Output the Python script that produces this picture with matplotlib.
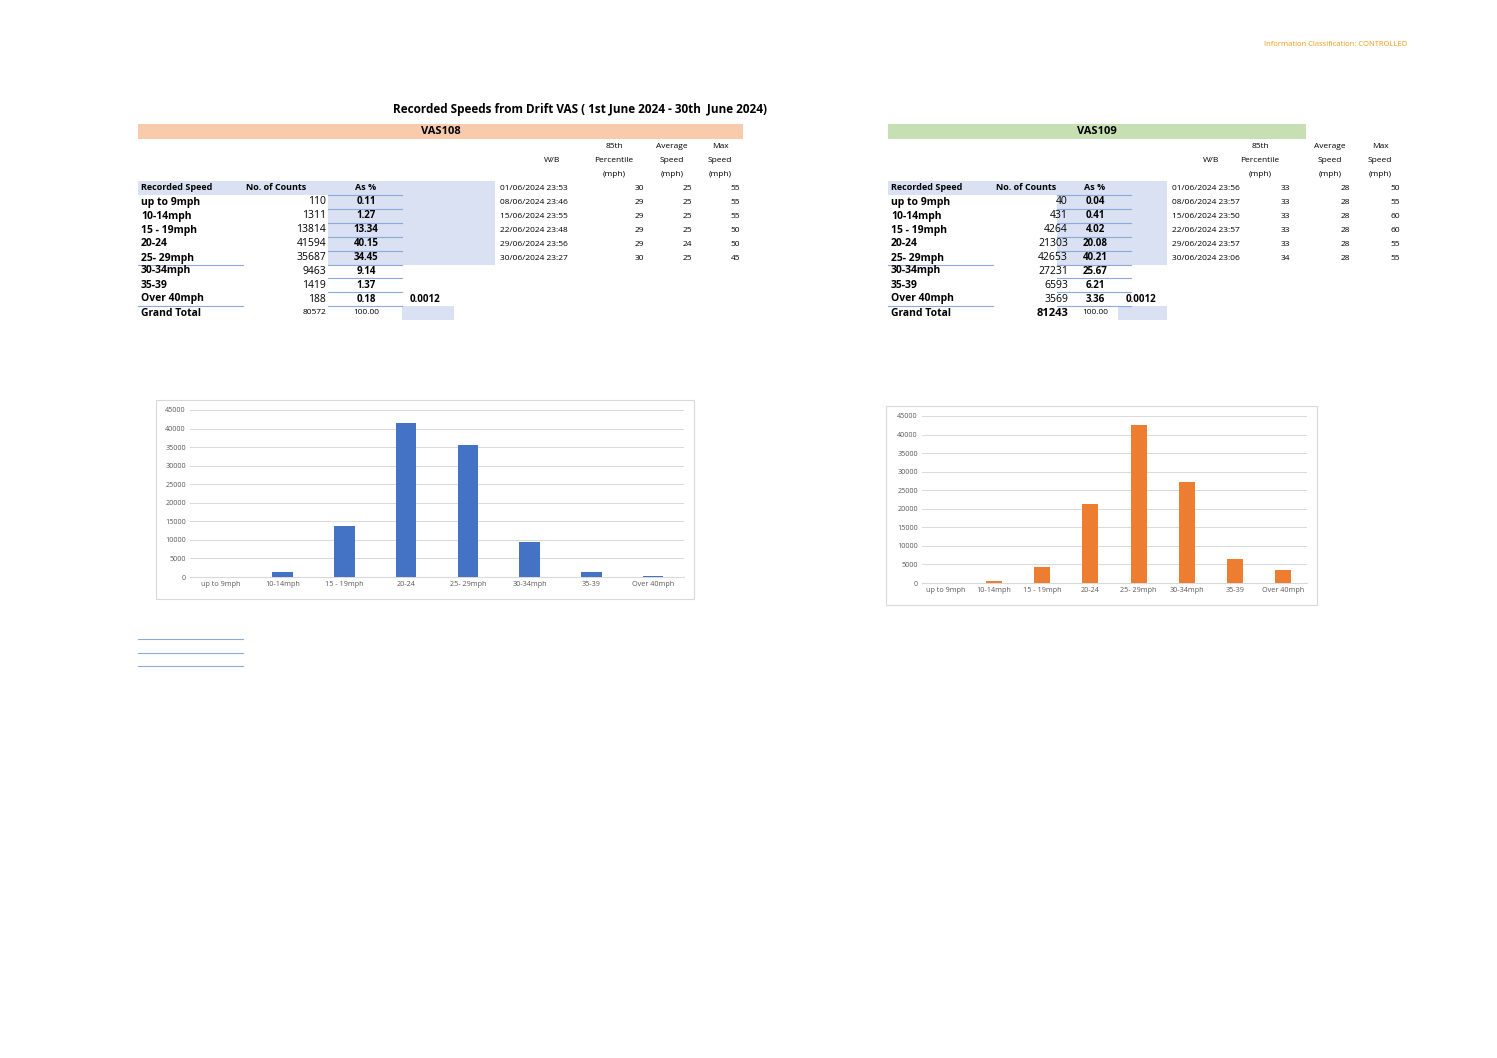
import matplotlib
matplotlib.use("Agg")
import matplotlib.pyplot as plt
from matplotlib.patches import Rectangle

categories = ["up to 9mph", "10-14mph", "15 - 19mph", "20-24", "25- 29mph", "30-34mph", "35-39", "Over 40mph"]
vas108_counts = [110, 1311, 13814, 41594, 35687, 9463, 1419, 188]
vas108_pct = ["0.11", "1.27", "13.34", "40.15", "34.45", "9.14", "1.37", "0.18"]
vas108_total = "80572"
vas109_counts = [40, 431, 4264, 21303, 42653, 27231, 6593, 3569]
vas109_pct = ["0.04", "0.41", "4.02", "20.08", "40.21", "25.67", "6.21", "3.36"]
vas109_total = "81243"
vas108_dates = ["01/06/2024 23:53", "08/06/2024 23:46", "15/06/2024 23:55", "22/06/2024 23:48", "29/06/2024 23:56", "30/06/2024 23:27"]
vas108_p85 = [30, 29, 29, 29, 29, 30]
vas108_avg = [25, 25, 25, 25, 24, 25]
vas108_max = [55, 55, 55, 50, 50, 45]
vas109_dates = ["01/06/2024 23:56", "08/06/2024 23:57", "15/06/2024 23:50", "22/06/2024 23:57", "29/06/2024 23:57", "30/06/2024 23:06"]
vas109_p85 = [33, 33, 33, 33, 33, 34]
vas109_avg = [28, 28, 28, 28, 28, 28]
vas109_max = [50, 55, 60, 60, 55, 55]
yticks = list(range(0, 45001, 5000))

W, H = 1497, 1058
fig = plt.figure(figsize=(W/100, H/100), dpi=100)
bg = fig.add_axes([0, 0, 1, 1])
bg.set_xlim(0, W); bg.set_ylim(H, 0); bg.axis("off")
FONT = "Open Sans"
BLUE = "#d9e1f2"

def T(x, y, s, ha="left", size=7, bold=False, color="black"):
    bg.text(x, y, s, ha=ha, va="center", fontsize=size, fontweight="bold" if bold else "normal",
            color=color, family=FONT)

def R(x0, y0, x1, y1, c):
    bg.add_patch(Rectangle((x0, y0), x1-x0, y1-y0, color=c, lw=0))

def L(x0, x1, y, c="#8ea9db"):
    bg.plot([x0, x1], [y, y], color=c, lw=0.8)

T(1407, 44, "Information Classification: CONTROLLED", ha="right", size=5.5, color="#f39c12")
T(580, 110, "Recorded Speeds from Drift VAS ( 1st June 2024 - 30th  June 2024)", ha="center", size=8.5, bold=True)

rows_y = [202, 216, 230, 244, 258, 271, 285, 299]

def table(o, band_end, title, band_col, counts, pct, total, dates, p85, avg, mx, total_bold, cx, pcx, ex0, ex1, dx, c85, cav, cmx, dend):
    R(o-3, 124, band_end, 139, band_col)
    T((o-3+band_end)/2, 131.5, title, ha="center", size=8, bold=True)
    # header texts
    T(dx+9+ (c85 - dx - 60)*0, 161, "", size=6)
    T((dx+c85)/2 - 20, 161, "W/B", ha="center", size=6)
    for xx, lines in [(c85-30, ["85th", "Percentile", "(mph)"]), (cav-20, ["Average", "Speed", "(mph)"]), (cmx-20, ["Max", "Speed", "(mph)"])]:
        for k, s in enumerate(lines):
            T(xx, 147+k*13.5, s, ha="center", size=6)
    # shading
    R(o-3, 181, dend, 195, BLUE)
    R(pcx-38, 195, dend, 265, BLUE)
    R(ex0, 306, ex1, 320, BLUE)
    T(o, 188, "Recorded Speed", size=6.5, bold=True)
    T(o+105, 188, "No. of Counts", size=6.5, bold=True)
    T(pcx, 188, "As %", ha="center", size=6.5, bold=True)
    for i, y in enumerate(rows_y):
        T(o, y, categories[i], size=7.5, bold=True)
        T(cx, y, str(counts[i]), ha="right", size=7.5)
        T(pcx, y, pct[i], ha="center", size=7, bold=True)
        L(pcx-38, pcx+36, y+7)
    for y in [265, 306]:
        L(o-3, o+102, y)
    L(pcx-38, pcx+36, 195)
    T(ex0+8, 299, "0.0012", size=7, bold=True)
    T(o, 313, "Grand Total", size=7.5, bold=True)
    T(cx, 313, total, ha="right", size=8 if total_bold else 6, bold=total_bold)
    T(pcx, 313, "100.00", ha="center", size=6)
    for i in range(6):
        y = 188 + i*14
        T(dx, y, dates[i], size=6)
        T(c85, y, str(p85[i]), ha="right", size=6)
        T(cav, y, str(avg[i]), ha="right", size=6)
        T(cmx, y, str(mx[i]), ha="right", size=6)

table(141, 743, "VAS108", "#f8cbad", vas108_counts, vas108_pct, vas108_total, vas108_dates, vas108_p85, vas108_avg, vas108_max,
      False, 326, 366, 402, 454, 500, 644, 692, 740, 495)
table(891, 1306, "VAS109", "#c6e0b4", vas109_counts, vas109_pct, vas109_total, vas109_dates, vas109_p85, vas109_avg, vas109_max,
      True, 1068, 1095, 1118, 1167, 1172, 1290, 1350, 1400, 1167)

for y in [639, 653, 666]:
    L(138, 243, y)

def chart(frame, plot, counts, color, tsize):
    fx0, fy0, fx1, fy1 = frame
    bg.add_patch(Rectangle((fx0, fy0), fx1-fx0, fy1-fy0, fill=False, ec="#d9d9d9", lw=0.8))
    px0, py0, px1, py1 = plot
    ax = fig.add_axes([px0/W, 1-py1/H, (px1-px0)/W, (py1-py0)/H])
    x = list(range(len(categories)))
    ax.bar(x, counts, width=0.33, color=color, zorder=3)
    ax.set_ylim(0, 45000); ax.set_xlim(-0.5, len(categories)-0.5)
    ax.set_yticks(yticks)
    ax.set_yticklabels([str(v) for v in yticks], fontsize=tsize, color="#595959", family=FONT)
    ax.set_xticks(x)
    ax.set_xticklabels(categories, fontsize=tsize, color="#595959", family=FONT)
    ax.grid(axis="y", color="#d9d9d9", lw=0.7, zorder=0)
    for s in ["top", "right", "left"]:
        ax.spines[s].set_visible(False)
    ax.spines["bottom"].set_color("#d9d9d9")
    ax.tick_params(length=0, pad=3)
    ax.patch.set_alpha(0)

chart((156, 400, 694, 599), (190, 410, 684, 577), vas108_counts, "#4472c4", 5.2)
chart((886, 406, 1317, 605), (922, 416, 1307, 583), vas109_counts, "#ed7d31", 5.2)

fig.savefig("out.png", dpi=100)
